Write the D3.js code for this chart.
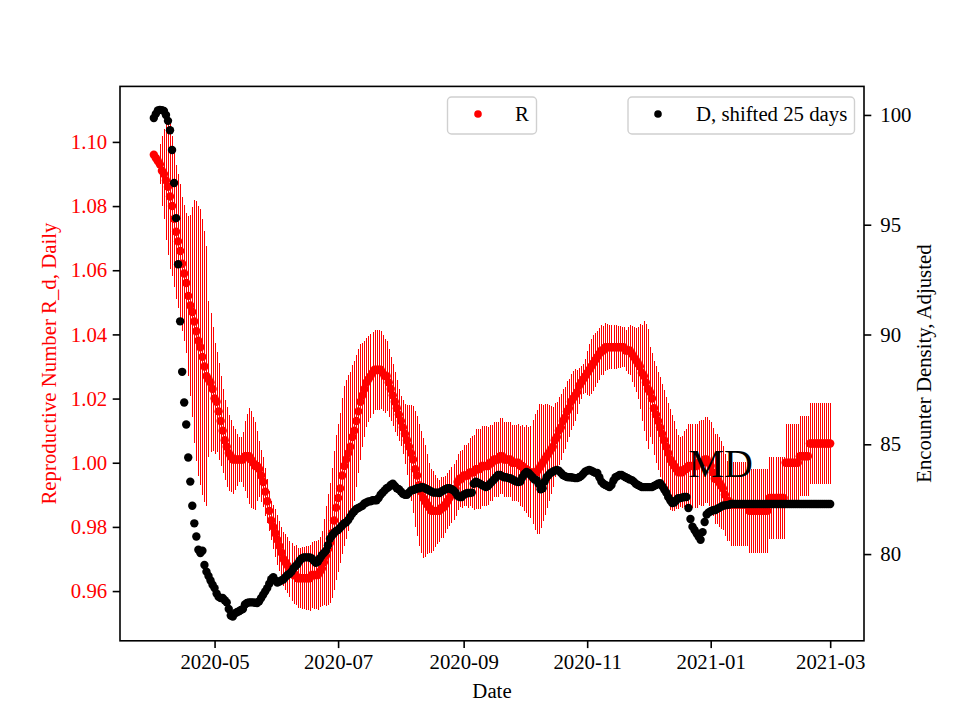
<!DOCTYPE html>
<html><head><meta charset="utf-8">
<script src="https://cdn.jsdelivr.net/npm/d3@7"></script>
<style>
body{margin:0;background:#fff}
svg{display:block}
text{font-family:"Liberation Serif","Times New Roman",serif}
</style>
</head><body>
<svg id="c" width="960" height="720"></svg>
<script>
// ---------------- DATA ----------------
const startDate = "2020-04-01"; // first daily observation
const rValues = [
1.096,1.095,1.094,1.093,1.091,1.090,1.088,1.086,1.083,1.080,
1.076,1.072,1.069,1.066,1.062,1.059,1.056,1.052,1.049,1.047,
1.044,1.041,1.038,1.036,1.033,1.030,1.027,1.026,1.025,1.023,
1.020,1.019,1.016,1.013,1.010,1.007,1.005,1.003,1.002,1.001,
1.001,1.001,1.001,1.001,1.001,1.002,1.002,1.002,1.001,1.000,
0.999,0.999,0.998,0.996,0.994,0.991,0.988,0.985,0.982,0.980,
0.978,0.976,0.974,0.972,0.970,0.969,0.968,0.967,0.966,0.965,
0.965,0.964,0.964,0.964,0.964,0.964,0.964,0.964,0.965,0.965,
0.965,0.965,0.966,0.967,0.969,0.971,0.973,0.975,0.978,0.982,
0.986,0.989,0.992,0.996,0.999,1.001,1.003,1.005,1.008,1.010,
1.013,1.016,1.019,1.021,1.023,1.025,1.026,1.027,1.028,1.029,
1.029,1.029,1.029,1.028,1.027,1.027,1.025,1.023,1.021,1.019,
1.017,1.015,1.013,1.011,1.009,1.007,1.005,1.003,1.001,0.998,
0.996,0.993,0.991,0.989,0.988,0.987,0.986,0.985,0.985,0.985,
0.985,0.985,0.986,0.986,0.987,0.988,0.989,0.990,0.991,0.992,
0.994,0.995,0.995,0.996,0.996,0.996,0.997,0.997,0.997,0.998,
0.998,0.998,0.999,0.999,0.999,0.999,1.000,1.000,1.001,1.001,
1.001,1.002,1.002,1.001,1.001,1.001,1.001,1.000,1.000,1.000,
1.000,0.999,0.999,0.998,0.998,0.997,0.997,0.997,0.997,0.997,
0.998,0.999,1.000,1.001,1.002,1.003,1.004,1.005,1.007,1.008,
1.010,1.011,1.013,1.014,1.016,1.017,1.019,1.020,1.021,1.022,
1.024,1.025,1.026,1.027,1.028,1.029,1.030,1.031,1.032,1.033,
1.034,1.035,1.035,1.036,1.036,1.036,1.036,1.036,1.036,1.036,
1.036,1.036,1.036,1.035,1.035,1.035,1.034,1.033,1.032,1.031,
1.030,1.028,1.027,1.025,1.023,1.022,1.020,1.017,1.015,1.013,
1.011,1.009,1.007,1.005,1.003,1.001,1.000,0.999,0.998,0.997,
0.997,0.997,0.998,0.998,0.999,0.999,0.999,0.999,0.999,1.000,
1.000,1.000,1.001,1.001,1.000,0.999,0.997,0.995,0.995,0.994,
0.993,0.992,0.990,0.988,0.988,0.987,0.987,0.987,0.987,0.987,
0.987,0.987,0.987,0.987,0.985,0.985,0.985,0.985,0.985,0.985,
0.985,0.985,0.985,0.985,0.989,0.989,0.989,0.989,0.989,0.989,
0.989,0.989,1.000,1.000,1.000,1.000,1.000,1.000,1.000,1.002,
1.002,1.002,1.002,1.002,1.006,1.006,1.006,1.006,1.006,1.006,
1.006,1.006,1.006,1.006,1.006
];
const rErr = [
0.0012,0.0016,0.0019,0.0062,0.0109,0.0140,0.0187,0.0212,0.0225,0.0218,
0.0212,0.0209,0.0209,0.0209,0.0209,0.0212,0.0218,0.0249,0.0281,0.0327,
0.0380,0.0405,0.0421,0.0430,0.0430,0.0421,0.0405,0.0243,0.0218,0.0193,
0.0172,0.0156,0.0150,0.0140,0.0131,0.0125,0.0125,0.0118,0.0112,0.0106,
0.0094,0.0081,0.0069,0.0069,0.0087,0.0109,0.0131,0.0150,0.0150,0.0143,
0.0137,0.0109,0.0087,0.0081,0.0078,0.0075,0.0069,0.0062,0.0062,0.0069,
0.0075,0.0078,0.0078,0.0081,0.0084,0.0087,0.0087,0.0087,0.0090,0.0090,
0.0094,0.0094,0.0094,0.0097,0.0097,0.0100,0.0100,0.0103,0.0103,0.0106,
0.0106,0.0109,0.0109,0.0118,0.0134,0.0156,0.0172,0.0187,0.0203,0.0218,
0.0225,0.0231,0.0234,0.0243,0.0249,0.0249,0.0243,0.0234,0.0225,0.0218,
0.0206,0.0193,0.0181,0.0162,0.0150,0.0140,0.0134,0.0131,0.0128,0.0125,
0.0125,0.0125,0.0122,0.0118,0.0115,0.0109,0.0106,0.0100,0.0097,0.0094,
0.0087,0.0081,0.0078,0.0084,0.0094,0.0109,0.0131,0.0150,0.0168,0.0181,
0.0187,0.0190,0.0190,0.0187,0.0175,0.0156,0.0140,0.0131,0.0125,0.0112,
0.0103,0.0097,0.0094,0.0094,0.0090,0.0087,0.0087,0.0087,0.0087,0.0087,
0.0087,0.0087,0.0090,0.0094,0.0094,0.0100,0.0106,0.0112,0.0118,0.0125,
0.0125,0.0125,0.0125,0.0125,0.0125,0.0122,0.0118,0.0118,0.0118,0.0118,
0.0118,0.0118,0.0118,0.0118,0.0118,0.0118,0.0118,0.0118,0.0118,0.0118,
0.0122,0.0125,0.0128,0.0131,0.0137,0.0140,0.0143,0.0162,0.0181,0.0193,
0.0203,0.0193,0.0181,0.0172,0.0162,0.0150,0.0137,0.0125,0.0115,0.0109,
0.0106,0.0103,0.0100,0.0097,0.0094,0.0090,0.0087,0.0087,0.0081,0.0069,
0.0056,0.0050,0.0047,0.0053,0.0069,0.0081,0.0087,0.0087,0.0084,0.0081,
0.0081,0.0078,0.0075,0.0075,0.0072,0.0069,0.0069,0.0069,0.0069,0.0065,
0.0065,0.0062,0.0062,0.0065,0.0072,0.0078,0.0087,0.0094,0.0100,0.0112,
0.0131,0.0150,0.0172,0.0181,0.0187,0.0140,0.0143,0.0147,0.0150,0.0153,
0.0156,0.0156,0.0156,0.0156,0.0156,0.0156,0.0150,0.0140,0.0125,0.0115,
0.0109,0.0112,0.0118,0.0125,0.0131,0.0131,0.0131,0.0131,0.0131,0.0131,
0.0134,0.0134,0.0134,0.0134,0.0134,0.0137,0.0137,0.0140,0.0140,0.0140,
0.0137,0.0131,0.0128,0.0125,0.0125,0.0128,0.0131,0.0131,0.0131,0.0131,
0.0131,0.0131,0.0131,0.0131,0.0131,0.0131,0.0131,0.0131,0.0131,0.0131,
0.0131,0.0131,0.0131,0.0131,0.0128,0.0128,0.0128,0.0128,0.0128,0.0128,
0.0128,0.0128,0.0122,0.0122,0.0122,0.0122,0.0122,0.0122,0.0122,0.0125,
0.0125,0.0125,0.0125,0.0125,0.0125,0.0125,0.0125,0.0125,0.0125,0.0125,
0.0125,0.0125,0.0125,0.0125,0.0125
];
const dValues = [
99.86,100.05,100.2,100.23,100.22,100.18,100.0,99.73,99.3,98.4,
96.9,95.3,93.2,90.6,88.3,86.9,85.9,84.4,83.3,82.2,
81.4,80.8,80.2,80.05,80.15,79.5,79.2,79.0,78.8,78.6,
78.45,78.2,78.05,78.0,78.0,77.9,77.8,77.5,77.2,77.15,
77.3,77.35,77.4,77.45,77.5,77.7,77.77,77.8,77.8,77.8,
77.78,77.77,77.85,78.0,78.15,78.3,78.45,78.65,78.85,78.95,
78.8,78.7,78.75,78.8,78.85,78.95,79.05,79.1,79.2,79.35,
79.45,79.55,79.7,79.8,79.85,79.85,79.85,79.85,79.8,79.7,
79.6,79.65,79.8,79.95,80.05,80.15,80.4,80.7,80.85,80.95,
81.05,81.1,81.2,81.3,81.4,81.45,81.55,81.7,81.85,81.95,
82.05,82.1,82.15,82.2,82.3,82.35,82.4,82.4,82.45,82.45,
82.45,82.55,82.7,82.8,82.9,83.0,83.05,83.15,83.2,83.1,
83.0,82.95,82.85,82.75,82.7,82.7,82.8,82.9,82.92,82.95,
83.0,83.0,83.05,83.05,83.0,82.95,82.9,82.85,82.8,82.8,
82.8,82.78,82.85,82.9,82.95,83.0,83.0,82.95,82.9,82.8,
82.65,82.6,82.6,82.7,82.75,82.78,82.78,82.8,83.2,83.3,
83.25,83.2,83.15,83.1,83.05,83.1,83.2,83.3,83.4,83.5,
83.6,83.6,83.55,83.5,83.5,83.46,83.45,83.4,83.35,83.3,
83.28,83.3,83.5,83.65,83.74,83.7,83.6,83.5,83.4,83.37,
83.2,82.95,83.0,83.3,83.5,83.6,83.7,83.75,83.8,83.83,
83.8,83.7,83.6,83.55,83.51,83.5,83.5,83.48,83.46,83.46,
83.5,83.55,83.65,83.75,83.8,83.83,83.8,83.75,83.7,83.69,
83.5,83.3,83.2,83.15,83.1,83.05,83.15,83.35,83.5,83.55,
83.6,83.6,83.55,83.5,83.45,83.4,83.37,83.3,83.2,83.15,
83.1,83.05,83.05,83.05,83.05,83.05,83.05,83.1,83.15,83.2,
83.23,83.1,82.95,82.8,82.6,82.45,82.32,82.35,82.45,82.55,
82.55,82.58,82.6,82.6,82.1,81.6,81.25,81.1,80.95,80.8,
80.65,81.0,81.46,81.8,81.9,81.95,82.0,82.0,82.05,82.1,
82.15,82.2,82.22,82.23,82.25,82.28,82.28,82.28,82.28,82.28,
82.28,82.28,82.28,82.28,82.28,82.28,82.28,82.28,82.28,82.28,
82.28,82.28,82.28,82.28,82.28,82.28,82.28,82.28,82.28,82.28,
82.28,82.28,82.28,82.28,82.28,82.28,82.28,82.28,82.28,82.28,
82.28,82.28,82.28,82.28,82.28,82.28,82.28,82.28,82.28,82.28,
82.28,82.28,82.28,82.28,82.28
];
const xTickLabels = ["2020-05","2020-07","2020-09","2020-11","2021-01","2021-03"];
const leftTicks = [0.96,0.98,1.00,1.02,1.04,1.06,1.08,1.10];
const rightTicks = [80,85,90,95,100];
const leftDomain = [0.9445, 1.1173];
const rightDomain = [76.05, 101.3];
const legendLabels = ["R", "D, shifted 25 days"];
const annotation = {text: "MD", date: "2020-12-21", value: 0.9955};

// ---------------- CHART ----------------
const svg = d3.select("#c");
const m = {l:120, r:864, t:86.4, b:640.8};
const FS = 20.8;
const parse = d3.utcParse("%Y-%m-%d");
const t0 = parse(startDate);
const dates = rValues.map((_, i) => d3.utcDay.offset(t0, i));
const ext = d3.extent(dates), span = ext[1] - ext[0];
const x = d3.scaleUtc()
  .domain([new Date(+ext[0] - 0.05*span), new Date(+ext[1] + 0.05*span)])
  .range([m.l, m.r]);
const yL = d3.scaleLinear().domain(leftDomain).range([m.b, m.t]);
const yR = d3.scaleLinear().domain(rightDomain).range([m.b, m.t]);

const plot = svg.append("g");
// R error bars (snapped to pixel columns for crisp 1px lines)
plot.append("g").attr("shape-rendering", "crispEdges")
  .selectAll("line").data(rValues).join("line")
  .attr("x1", (d,i) => Math.round(x(dates[i])) + 0.5)
  .attr("x2", (d,i) => Math.round(x(dates[i])) + 0.5)
  .attr("y1", (d,i) => yL(d - rErr[i])).attr("y2", (d,i) => yL(d + rErr[i]))
  .attr("stroke", "#ff0000").attr("stroke-width", 1);
// R points
plot.append("g").selectAll("circle").data(rValues).join("circle")
  .attr("cx", (d,i) => x(dates[i])).attr("cy", d => yL(d))
  .attr("r", 4.2).attr("fill", "#ff0000");
// D points (right axis)
plot.append("g").selectAll("circle").data(dValues).join("circle")
  .attr("cx", (d,i) => x(dates[i])).attr("cy", d => yR(d))
  .attr("r", 4.2).attr("fill", "#000");

// annotation
svg.append("text")
  .attr("x", x(parse(annotation.date))).attr("y", yL(annotation.value))
  .attr("font-size", 40).attr("fill", "#000").text(annotation.text);

// axes
const tickLen = 7.3;
function styleAxis(g, labelColor){
  g.select(".domain").remove();
  g.selectAll(".tick line").attr("stroke", "#000").attr("stroke-width", 1.6);
  g.selectAll(".tick text").attr("font-size", FS).attr("fill", labelColor)
    .attr("font-family", '"Liberation Serif","Times New Roman",serif');
}
const xAxis = d3.axisBottom(x)
  .tickValues(xTickLabels.map(s => parse(s + "-01")))
  .tickFormat(d3.utcFormat("%Y-%m")).tickSize(tickLen).tickPadding(6.5);
svg.append("g").attr("transform", `translate(0,${m.b})`).call(xAxis).call(g => styleAxis(g, "#000"));

const lAxis = d3.axisLeft(yL).tickValues(leftTicks).tickFormat(d3.format(".2f"))
  .tickSize(tickLen).tickPadding(5.5);
svg.append("g").attr("transform", `translate(${m.l},0)`).call(lAxis).call(g => styleAxis(g, "#ff0000"));

const rAxis = d3.axisRight(yR).tickValues(rightTicks).tickFormat(d3.format("d"))
  .tickSize(tickLen).tickPadding(9);
svg.append("g").attr("transform", `translate(${m.r},0)`).call(rAxis).call(g => styleAxis(g, "#000"));

// frame
svg.append("rect").attr("x", m.l).attr("y", m.t).attr("width", m.r - m.l).attr("height", m.b - m.t)
  .attr("fill", "none").attr("stroke", "#000").attr("stroke-width", 1.6);

// axis labels
svg.append("text").attr("x", (m.l + m.r)/2).attr("y", 698).attr("text-anchor", "middle")
  .attr("font-size", FS).attr("fill", "#000").text("Date");
svg.append("text").attr("transform", `translate(56,${(m.t + m.b)/2}) rotate(-90)`)
  .attr("text-anchor", "middle").attr("font-size", FS).attr("fill", "#ff0000")
  .text("Reproductive Number R_d, Daily");
svg.append("text").attr("transform", `translate(931,${(m.t + m.b)/2}) rotate(-90)`)
  .attr("text-anchor", "middle").attr("font-size", FS).attr("fill", "#000")
  .text("Encounter Density, Adjusted");

// legends
function legend(x0, x1, color, label, markerX, textX){
  const g = svg.append("g");
  g.append("rect").attr("x", x0).attr("y", 97).attr("width", x1 - x0).attr("height", 37)
    .attr("rx", 4).attr("fill", "#fff").attr("fill-opacity", 0.8)
    .attr("stroke", "#d0d0d0").attr("stroke-width", 1.4);
  g.append("circle").attr("cx", markerX).attr("cy", 114).attr("r", 3.8).attr("fill", color);
  g.append("text").attr("x", textX).attr("y", 120.5).attr("font-size", FS).attr("fill", "#000").text(label);
}
legend(447.5, 536.5, "#ff0000", legendLabels[0], 478, 515);
legend(628, 854.5, "#000", legendLabels[1], 658, 696);
</script>
</body></html>
